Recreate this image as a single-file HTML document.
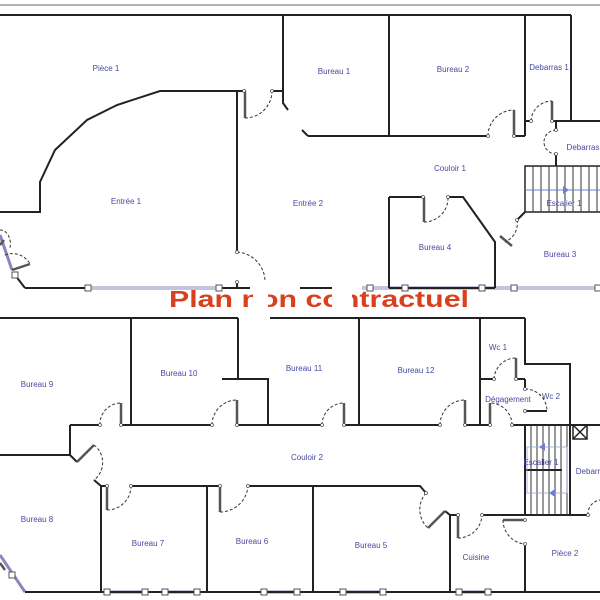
<!DOCTYPE html>
<html><head><meta charset="utf-8"><style>
html,body{margin:0;padding:0;background:#fff;width:600px;height:600px;overflow:hidden}
svg{display:block}
.w{stroke:#222;stroke-width:2;fill:none}
.t{font-family:"Liberation Sans",sans-serif;font-size:8px;fill:#4848a0;text-anchor:middle}
.d{stroke:#333;stroke-width:1;stroke-dasharray:3,2;fill:none}
.l{stroke:#555;stroke-width:2.5;fill:none}
.win{stroke:#8888bb;stroke-width:3;fill:none}
.win2{stroke:#fff;stroke-width:1;fill:none}
.sq{fill:#fff;stroke:#555;stroke-width:1}
.st{stroke:#333;stroke-width:1}
</style></head><body>
<svg width="600" height="600" viewBox="0 0 600 600">
<line x1="0" y1="5" x2="600" y2="5" stroke="#999" stroke-width="1.5"/>
<!-- windows -->
<g>
<path class="win" d="M88 288H219 M362 288H600 M107 592H145 M165 592H197 M264 592H297 M343 592H383 M459 592H488 M0 555L25 592 M0 235L12 270"/>
<path class="win2" d="M88 288H219 M362 288H600 M107 592H145 M165 592H197 M264 592H297 M343 592H383 M459 592H488"/>
</g>
<!-- walls upper -->
<path class="w" d="M0 15H571 M571 15V121H600 M283 15V103L288 110
M0 212H40V182L55 150L87 120L117 105L160 91H244 M272 91H283
M237 91V252 M237 282V288 M25 288H88 M219 288H250 M300 288H332 M25 288L15 275
M389 15V136 M308 136L302 130 M308 136H488 M514 136H525 M525 15V136
M525 121H531 M552 121H571 M556 121V130 M556 154V166
M389 197V288 M389 197H423 M448 197H463L495 242V288 M389 288H495
M525 212L517 220"/>
<!-- stairs upper -->
<rect x="525" y="166" width="80" height="46" fill="none" stroke="#222" stroke-width="1.5"/>
<g class="st">
<line x1="533" y1="166" x2="533" y2="212"/><line x1="541" y1="166" x2="541" y2="212"/><line x1="549" y1="166" x2="549" y2="212"/><line x1="557" y1="166" x2="557" y2="212"/><line x1="565" y1="166" x2="565" y2="212"/><line x1="573" y1="166" x2="573" y2="212"/><line x1="581" y1="166" x2="581" y2="212"/><line x1="589" y1="166" x2="589" y2="212"/><line x1="597" y1="166" x2="597" y2="212"/>
</g>
<line x1="525" y1="190" x2="600" y2="190" stroke="#6f7fd0" stroke-width="1"/>
<path d="M563 186L569 190L563 194Z" fill="#6f7fd0"/>
<!-- doors upper -->
<path class="l" d="M245 91V118 M514 110V136 M552 101V121 M424 197V222 M500 236L512 246 M12 270L30 264 M0 245L4 240"/>
<path class="d" d="M245 118A27 27 0 0 0 272 91 M488 136A26 26 0 0 1 514 110 M531 121A21 21 0 0 1 552 101 M556 130A12 12 0 0 0 556 154 M424 222A24 24 0 0 0 448 197 M517 220A20 20 0 0 1 505 242 M237 252A30 30 0 0 1 265 280 M5 255A20 20 0 0 1 30 264 M0 230A10 14 0 0 1 10 248"/>
<!-- walls lower -->
<path class="w" d="M0 318H238 M270 318H525 M131 318V425 M238 318V379 M222 379H268V425
M359 318V425 M480 318V425 M525 318V364H570V425
M480 379H494 M516 379H525 M525 379V389 M525 411H547
M70 425H100 M121 425H212 M237 425H322 M344 425H440 M465 425H490 M512 425H600
M70 425V455H0 M70 455L77 462 M94 480L101 486
M101 486H107 M131 486H220 M248 486H420L426 493 M101 486V592 M207 486V592 M313 486V592
M445 511L450 515V592 M450 515H458 M482 515H525 M525 544V592 M570 425V515 M525 515H588
M25 592H600 M525 425V515 M525 470H562"/>
<!-- stairs lower -->
<g class="st">
<line x1="531" y1="425" x2="531" y2="515"/><line x1="537" y1="425" x2="537" y2="515"/><line x1="543" y1="425" x2="543" y2="515"/><line x1="549" y1="425" x2="549" y2="515"/><line x1="555" y1="425" x2="555" y2="515"/><line x1="561" y1="425" x2="561" y2="515"/><line x1="567" y1="425" x2="567" y2="515"/>
</g>
<rect x="527" y="447" width="40" height="46" fill="none" stroke="#9aa3d8" stroke-width="0.8"/>
<path d="M545 443L539 447L545 451Z M555 489L549 493L555 497Z" fill="#6f7fd0"/>
<rect x="573" y="425" width="14" height="14" fill="none" stroke="#222" stroke-width="1.5"/>
<path d="M573 425L587 439M587 425L573 439" stroke="#222" stroke-width="1.5"/>
<!-- doors lower -->
<path class="l" d="M121 403V425 M237 400V425 M344 403V425 M465 400V425 M490 403V425 M516 358V379 M107 486V510 M220 486V512 M458 515V538 M503 520H525 M77 462L94 445 M428 528L445 511 M5 570L0 563"/>
<path class="d" d="M100 425A21 21 0 0 1 121 403 M212 425A25 25 0 0 1 237 400 M322 425A22 22 0 0 1 344 403 M440 425A25 25 0 0 1 465 400 M512 425A22 22 0 0 0 490 403 M494 379A22 22 0 0 1 516 358 M525 389A22 22 0 0 1 547 411 M107 510A24 24 0 0 0 131 486 M220 512A28 28 0 0 0 248 486 M458 538A24 24 0 0 0 482 515 M503 520A24 24 0 0 0 525 544 M94 445A22 22 0 0 1 94 480 M426 493A25 25 0 0 0 428 528 M588 515A14 14 0 0 1 600 500"/>
<!-- hinge dots -->
<g fill="#fff" stroke="#555" stroke-width="0.8">
<circle cx="244" cy="91" r="1.5"/><circle cx="272" cy="91" r="1.5"/><circle cx="237" cy="252" r="1.5"/><circle cx="237" cy="282" r="1.5"/>
<circle cx="488" cy="136" r="1.5"/><circle cx="514" cy="136" r="1.5"/><circle cx="531" cy="121" r="1.5"/><circle cx="552" cy="121" r="1.5"/><circle cx="556" cy="130" r="1.5"/><circle cx="556" cy="154" r="1.5"/>
<circle cx="423" cy="197" r="1.5"/><circle cx="448" cy="197" r="1.5"/><circle cx="517" cy="220" r="1.5"/>
<circle cx="100" cy="425" r="1.5"/><circle cx="121" cy="425" r="1.5"/><circle cx="212" cy="425" r="1.5"/><circle cx="237" cy="425" r="1.5"/><circle cx="322" cy="425" r="1.5"/><circle cx="344" cy="425" r="1.5"/><circle cx="440" cy="425" r="1.5"/><circle cx="465" cy="425" r="1.5"/><circle cx="490" cy="425" r="1.5"/><circle cx="512" cy="425" r="1.5"/>
<circle cx="494" cy="379" r="1.5"/><circle cx="516" cy="379" r="1.5"/><circle cx="525" cy="389" r="1.5"/><circle cx="525" cy="411" r="1.5"/>
<circle cx="107" cy="486" r="1.5"/><circle cx="131" cy="486" r="1.5"/><circle cx="220" cy="486" r="1.5"/><circle cx="248" cy="486" r="1.5"/><circle cx="458" cy="515" r="1.5"/><circle cx="482" cy="515" r="1.5"/><circle cx="525" cy="520" r="1.5"/><circle cx="525" cy="544" r="1.5"/><circle cx="426" cy="493" r="1.5"/><circle cx="588" cy="515" r="1.5"/>
</g>
<!-- window squares -->
<g class="sq">
<rect x="85" y="285" width="6" height="6"/><rect x="216" y="285" width="6" height="6"/><rect x="367" y="285" width="6" height="6"/><rect x="402" y="285" width="6" height="6"/><rect x="479" y="285" width="6" height="6"/><rect x="511" y="285" width="6" height="6"/><rect x="595" y="285" width="6" height="6"/>
<rect x="104" y="589" width="6" height="6"/><rect x="142" y="589" width="6" height="6"/><rect x="162" y="589" width="6" height="6"/><rect x="194" y="589" width="6" height="6"/><rect x="261" y="589" width="6" height="6"/><rect x="294" y="589" width="6" height="6"/><rect x="340" y="589" width="6" height="6"/><rect x="380" y="589" width="6" height="6"/><rect x="456" y="589" width="6" height="6"/><rect x="485" y="589" width="6" height="6"/><rect x="9" y="572" width="6" height="6"/><rect x="12" y="272" width="6" height="6"/>
</g>
<!-- labels -->
<g class="t">
<text x="106" y="71">Pièce 1</text><text x="334" y="74">Bureau 1</text><text x="453" y="72">Bureau 2</text><text x="549" y="70">Debarras 1</text><text x="583" y="150">Debarras</text>
<text x="126" y="204">Entrée 1</text><text x="308" y="206">Entrée 2</text><text x="450" y="171">Couloir 1</text><text x="564" y="206">Escalier 1</text>
<text x="435" y="250">Bureau 4</text><text x="560" y="257">Bureau 3</text>
<text x="37" y="387">Bureau 9</text><text x="179" y="376">Bureau 10</text><text x="304" y="371">Bureau 11</text><text x="416" y="373">Bureau 12</text>
<text x="498" y="350">Wc 1</text><text x="508" y="402">Dégagement</text><text x="551" y="399">Wc 2</text><text x="541" y="465">Escalier 1</text><text x="588" y="474">Debarr</text>
<text x="307" y="460">Couloir 2</text><text x="37" y="522">Bureau 8</text><text x="148" y="546">Bureau 7</text><text x="252" y="544">Bureau 6</text><text x="371" y="548">Bureau 5</text><text x="476" y="560">Cuisine</text><text x="565" y="556">Pièce 2</text>
</g>
<text x="169" y="307" font-family="Liberation Sans,sans-serif" font-weight="bold" font-size="23" fill="#d9401e" textLength="300" lengthAdjust="spacingAndGlyphs">Plan non contractuel</text>
<rect x="253" y="285" width="15" height="48" fill="#fff"/>
<rect x="332" y="285" width="20" height="30" fill="#fff"/>
</svg>
</body></html>
